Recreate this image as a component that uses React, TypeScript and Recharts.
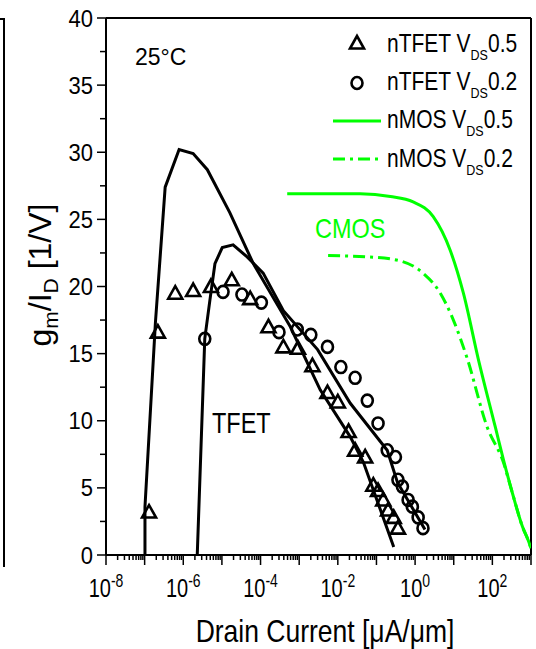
import React from 'react';
import { ComposedChart, Line, Scatter, XAxis, YAxis, ReferenceLine } from 'recharts';

// nTFET measured points, V_DS = 0.5 V (drain current in uA/um, gm/Id in 1/V)
const tfet05X = [1.3e-7, 2.2e-7, 6.2e-7, 1.8e-6, 5.2e-6, 1.8e-5, 5.4e-5, 1.6e-4, 3.9e-4, 9.3e-4, 2.2e-3, 5.4e-3, 1.0e-2, 1.9e-2, 2.8e-2, 5.1e-2, 8.3e-2, 0.11, 0.15, 0.2, 0.28, 0.36];
const tfet05Y = [3.2, 16.6, 19.5, 19.7, 20.0, 20.5, 19.1, 17.0, 15.5, 15.4, 14.1, 12.1, 11.4, 9.2, 7.8, 7.3, 5.2, 4.8, 4.1, 3.35, 2.8, 2.0];

// nTFET measured points, V_DS = 0.2 V
const tfet02X = [3.6e-6, 1.07e-5, 3.3e-5, 1.05e-4, 3.0e-4, 8.9e-4, 2.0e-3, 5.4e-3, 1.2e-2, 2.8e-2, 5.8e-2, 0.11, 0.19, 0.31, 0.36, 0.47, 0.66, 0.85, 1.2, 1.6];
const tfet02Y = [16.1, 19.6, 19.4, 18.8, 16.6, 16.8, 16.4, 15.5, 14.0, 13.2, 11.5, 9.8, 7.8, 7.3, 5.6, 5.1, 4.1, 3.6, 2.8, 2.0];

// simulated TFET curves
const fit05X = [1.02e-7, 1.02e-7, 1.9e-7, 3.4e-7, 7.8e-7, 1.8e-6, 4.2e-6, 1.6e-5, 6.5e-5, 5.9e-4, 3.5e-3, 2.1e-2, 4.6e-2, 0.28];
const fit05Y = [0, 3.6, 17.3, 27.4, 30.2, 29.9, 28.7, 25.5, 21.7, 17.0, 12.3, 8.8, 6.9, 0.6];
const fit02X = [2.3e-6, 3.6e-6, 4.9e-6, 6.6e-6, 1.02e-5, 1.95e-5, 4.5e-5, 1.17e-4, 3.9e-4, 3.0e-3, 2.1e-2, 0.19, 0.35, 1.8];
const fit02Y = [0, 16.1, 19.0, 21.7, 22.9, 23.1, 22.2, 21.0, 18.2, 15.3, 11.3, 7.8, 5.4, 1.9];

// nMOS curves
const mos05X = [4.9e-4, 3.8e-2, 0.23, 0.89, 2.95, 8.1, 17.8, 44, 120, 193, 331, 603, 870, 1000];
const mos05Y = [26.9, 26.9, 26.7, 26.3, 25.2, 22.7, 19.5, 14.5, 9.5, 7.1, 4.6, 2.1, 1.0, 0.5];
const mos02X = [5.6e-3, 6.9e-2, 0.42, 1.6, 4.5, 9.8, 22, 74, 193, 331, 603, 870, 1000];
const mos02Y = [22.3, 22.2, 21.9, 21.0, 19.5, 17.5, 14.7, 9.5, 6.9, 4.6, 2.1, 1.0, 0.5];

const xDecades = [1e-8, 1e-7, 1e-6, 1e-5, 1e-4, 1e-3, 1e-2, 1e-1, 1, 10, 100, 1000];
const xLabelPowers = [-8, -6, -4, -2, 0, 2];
const yTicks = [0, 2.5, 5, 7.5, 10, 12.5, 15, 17.5, 20, 22.5, 25, 27.5, 30, 32.5, 35, 37.5, 40];
const yLabels = [0, 5, 10, 15, 20, 25, 30, 35, 40];

const legendLabels = ['nTFET V', 'nTFET V', 'nMOS V', 'nMOS V'];
const legendVds = ['0.5', '0.2', '0.5', '0.2'];

const W = 536;
const H = 649;
const M = { top: 18, right: 5, bottom: 0, left: 0 };
const Y_AXIS_W = 106;
const X_AXIS_H = 94;
const PLOT_BOTTOM = H - M.bottom - X_AXIS_H;
const PLOT_LEFT = M.left + Y_AXIS_W;
const FONT = '"Liberation Sans", Arial, Helvetica, sans-serif';
const GREEN = '#00ff00';

const zip = (xs: number[], ys: number[]) => xs.map((x, i) => ({ x, y: ys[i] }));

const xTicks: number[] = [];
xDecades.forEach((d, i) => {
  xTicks.push(d);
  if (i < xDecades.length - 1) for (let k = 2; k <= 9; k++) xTicks.push(d * k);
});

// text that is stretched vertically like the original figure
const SText = ({ x, y, sy = 1, size, anchor = 'start', fill = '#000', children }: any) => (
  <g transform={`translate(${x},${y}) scale(1,${sy})`}>
    <text x={0} y={0} fontSize={size} textAnchor={anchor} fill={fill} fontFamily={FONT}>
      {children}
    </text>
  </g>
);

const XTick = (props: any) => {
  const { x, payload } = props;
  const v = payload.value;
  const p = Math.round(Math.log10(v));
  const major = Math.abs(v / Math.pow(10, p) - 1) < 1e-6;
  return (
    <g>
      <line x1={x} x2={x} y1={PLOT_BOTTOM} y2={PLOT_BOTTOM + (major ? 10 : 5)} stroke="#000" strokeWidth={1.5} />
      {major && xLabelPowers.includes(p) && (
        <SText x={x} y={PLOT_BOTTOM + 42} sy={1.25} size={20} anchor="middle">
          10<tspan fontSize={14} dy={-8}>{p}</tspan>
        </SText>
      )}
    </g>
  );
};

const YTick = (props: any) => {
  const { y, payload } = props;
  const v = payload.value;
  const major = yLabels.includes(v);
  return (
    <g>
      <line x1={PLOT_LEFT - (major ? 9 : 6)} x2={PLOT_LEFT} y1={y} y2={y} stroke="#000" strokeWidth={1.5} />
      {major && (
        <SText x={PLOT_LEFT - 13} y={y + 8.5} sy={1.08} size={22} anchor="end">
          {v}
        </SText>
      )}
    </g>
  );
};

const Tri = (props: any) => {
  const { cx, cy } = props;
  if (cx == null || cy == null) return null;
  return (
    <polygon
      points={`${cx},${cy - 7} ${cx - 7},${cy + 5.5} ${cx + 7},${cy + 5.5}`}
      fill="none"
      stroke="#000"
      strokeWidth={2.6}
      strokeLinejoin="miter"
    />
  );
};

const Circ = (props: any) => {
  const { cx, cy } = props;
  if (cx == null || cy == null) return null;
  return <ellipse cx={cx} cy={cy} rx={5.5} ry={6} fill="none" stroke="#000" strokeWidth={2.6} />;
};

const Overlay = () => {
  const rows = [52, 90, 128, 167];
  return (
    <svg width={W} height={H} style={{ position: 'absolute', left: 0, top: 0, pointerEvents: 'none' }}>
      {/* legend */}
      <Tri cx={357} cy={43} />
      <Circ cx={357} cy={83} />
      <line x1={333} x2={381} y1={121} y2={121} stroke={GREEN} strokeWidth={3} />
      <line x1={333} x2={381} y1={159} y2={159} stroke={GREEN} strokeWidth={3} strokeDasharray="12 5 3 5" />
      {rows.map((by, i) => (
        <SText key={i} x={387} y={by} sy={1.2} size={21}>
          {legendLabels[i]}
          <tspan fontSize={12.5} dy={7}>DS</tspan>
          <tspan dy={-7}>{legendVds[i]}</tspan>
        </SText>
      ))}

      <SText x={135} y={65} size={23}>25°C</SText>
      <SText x={315} y={238} sy={1.19} size={23.5} fill={GREEN}>CMOS</SText>
      <SText x={212} y={433} sy={1.22} size={23.5}>TFET</SText>

      {/* axis titles */}
      <SText x={325} y={642} sy={1.16} size={26.5} anchor="middle">Drain Current [μA/μm]</SText>
      <g transform="translate(51,275) rotate(-90)">
        <text x={0} y={0} fontSize={32} textAnchor="middle" fontFamily={FONT} fill="#000">
          g<tspan fontSize={21} dy={7}>m</tspan>
          <tspan dy={-7}>/I</tspan>
          <tspan fontSize={21} dy={7}>D</tspan>
          <tspan dy={-7}> [1/V]</tspan>
        </text>
      </g>
    </svg>
  );
};

export default function App() {
  return (
    <div style={{ position: 'absolute', left: 0, top: 0, width: W, height: H, background: '#fff' }}>
      {/* edge of the neighbouring panel */}
      <div
        style={{
          position: 'absolute',
          left: 0,
          top: 18,
          width: 3,
          height: 547,
          borderTop: '2px solid #000',
          borderRight: '2px solid #000',
        }}
      />
      <ComposedChart width={W} height={H} margin={M}>
        <XAxis
          dataKey="x"
          type="number"
          scale="log"
          domain={[1e-8, 1000]}
          allowDataOverflow
          ticks={xTicks}
          interval={0}
          tick={<XTick />}
          tickLine={false}
          axisLine={{ stroke: '#000', strokeWidth: 2 }}
          height={X_AXIS_H}
        />
        <YAxis
          type="number"
          domain={[0, 40]}
          ticks={yTicks}
          interval={0}
          tick={<YTick />}
          tickLine={false}
          axisLine={{ stroke: '#000', strokeWidth: 2 }}
          width={Y_AXIS_W}
        />
        <ReferenceLine y={40} stroke="#000" strokeWidth={2} />
        <ReferenceLine x={1000} stroke="#000" strokeWidth={2} />

        <Line data={zip(mos05X, mos05Y)} dataKey="y" type="monotone" stroke={GREEN} strokeWidth={3} dot={false} isAnimationActive={false} />
        <Line data={zip(mos02X, mos02Y)} dataKey="y" type="monotone" stroke={GREEN} strokeWidth={3} strokeDasharray="12 5 3 5" dot={false} isAnimationActive={false} />
        <Line data={zip(fit05X, fit05Y)} dataKey="y" type="linear" stroke="#000" strokeWidth={3} dot={false} isAnimationActive={false} />
        <Line data={zip(fit02X, fit02Y)} dataKey="y" type="linear" stroke="#000" strokeWidth={3} dot={false} isAnimationActive={false} />
        <Scatter data={zip(tfet05X, tfet05Y)} dataKey="y" shape={<Tri />} isAnimationActive={false} />
        <Scatter data={zip(tfet02X, tfet02Y)} dataKey="y" shape={<Circ />} isAnimationActive={false} />
      </ComposedChart>
      <Overlay />
    </div>
  );
}
